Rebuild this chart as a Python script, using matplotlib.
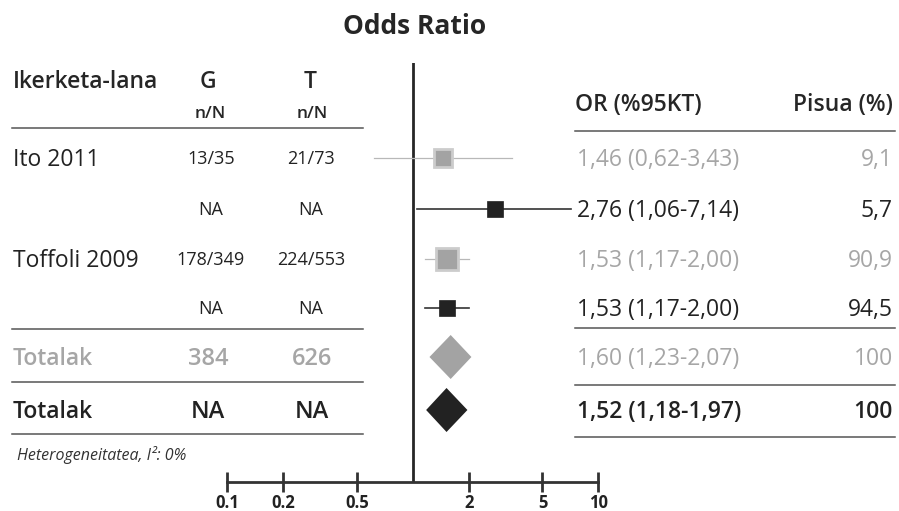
import matplotlib
matplotlib.use("Agg")
import matplotlib.pyplot as plt
from matplotlib.lines import Line2D

plt.rcParams['font.family'] = ['Open Sans', 'DejaVu Sans']

# data
studies = ["Ito 2011", "", "Toffoli 2009", "", "Totalak", "Totalak"]
g_counts = ["13/35", "NA", "178/349", "NA", "384", "NA"]
t_counts = ["21/73", "NA", "224/553", "NA", "626", "NA"]
odds = [1.46, 2.76, 1.53, 1.53, 1.60, 1.52]
ci_lo = [0.62, 1.06, 1.17, 1.17, 1.23, 1.18]
ci_hi = [3.43, 7.14, 2.00, 2.00, 2.07, 1.97]
weights = [9.1, 5.7, 90.9, 94.5, 100, 100]
is_total = [False, False, False, False, True, True]
xticks = [0.1, 0.2, 0.5, 2, 5, 10]
xtick_labels = ["0.1", "0.2", "0.5", "2", "5", "10"]

# layout (pixels from top-left of a 899x511 canvas)
W, H = 899, 511
row_y = [158, 209, 259, 308, 357, 410]
GRAY = "#a6a6a6"
DARK = "#222222"
row_col = [GRAY, DARK, GRAY, DARK, GRAY, DARK]
sq_size = [13, 12, 16, 11]       # marker sizes (pt)
sq_edge = ["#cccccc", DARK, "#cccccc", DARK]
LINE = "#555555"
FS = 16.5


def fx(x):
    return x / W


def fy(y):
    return 1 - y / H


def put(x, y, s, size, ha="left", **kw):
    # y is the visual centre of capitals, in pixels
    base = y + 0.357 * size * 100 / 72
    fig.text(fx(x), fy(base), s, fontsize=size, ha=ha, va="baseline", **kw)


def fmt(v):
    return f"{v:.2f}".replace(".", ",")


def fmt_w(v):
    return str(int(v)) if v == int(v) else f"{v:.1f}".replace(".", ",")


fig = plt.figure(figsize=(W / 100, H / 100), dpi=100)

# forest plot panel, log scale, 0.1..10
x0, x1, ytop, ybot = 227.3, 598.3, 63, 481.7
ax = fig.add_axes([fx(x0), fy(ybot), (x1 - x0) / W, (ybot - ytop) / H])
ax.set_xscale("log")
ax.set_xlim(0.1, 10)
ax.set_ylim(ybot, ytop)
ax.patch.set_alpha(0)
for side in ["top", "right", "left"]:
    ax.spines[side].set_visible(False)
ax.spines["bottom"].set_linewidth(2)
ax.spines["bottom"].set_color("#333333")
ax.set_yticks([])
ax.set_xticks(xticks)
ax.set_xticklabels(xtick_labels, fontsize=12, fontweight="bold", color="#222222")
ax.xaxis.set_minor_locator(matplotlib.ticker.NullLocator())
ax.tick_params(axis="x", direction="inout", length=15, width=2, color="#333333", pad=1.5)
ax.axvline(1, color="#262626", lw=2, zorder=1)

for i in range(len(odds)):
    y = row_y[i]
    c = row_col[i]
    if is_total[i]:
        h = 22
        ax.fill([ci_lo[i], odds[i], ci_hi[i], odds[i]], [y, y - h, y, y + h],
                color="#a3a3a3" if c == GRAY else DARK, lw=0, zorder=3)
    else:
        gray = c == GRAY
        ax.plot([ci_lo[i], ci_hi[i]], [y, y], color="#b8b8b8" if gray else "#333333",
                lw=0.9 if gray else 1.2, zorder=2)
        ax.plot(odds[i], y, marker="s", ms=sq_size[i],
                mfc="#a3a3a3" if gray else DARK, mec=sq_edge[i],
                mew=2 if gray else 0.5, zorder=3)

# title and headers
put(415, 25, "Odds Ratio", 19, ha="center", fontweight="bold", color="#262626")
put(13, 80, "Ikerketa-lana", FS, fontweight="semibold", color="#262626")
put(208, 80, "G", FS, ha="center", fontweight="semibold", color="#262626")
put(310, 80, "T", FS, ha="center", fontweight="semibold", color="#262626")
put(210, 112, "n/N", 12.5, ha="center", fontweight="semibold", color="#262626")
put(312, 112, "n/N", 12.5, ha="center", fontweight="semibold", color="#262626")
put(575, 103, "OR (%95KT)", FS, fontweight="semibold", color="#262626")
put(893, 103, "Pisua (%)", FS, ha="right", fontweight="semibold", color="#262626")

# table rows: left part is dark except the gray totals row
for i in range(len(odds)):
    y = row_y[i]
    c = row_col[i]
    tot = is_total[i]
    left_c = c if tot else DARK
    if studies[i]:
        put(13, y, studies[i], FS, color=left_c, fontweight="semibold" if tot else "normal")
    if tot:
        put(208, y, g_counts[i], 17, ha="center", color=left_c, fontweight="semibold")
        put(312, y, t_counts[i], 17, ha="center", color=left_c, fontweight="semibold")
    else:
        put(211, y, g_counts[i], 13, ha="center", color=left_c)
        put(311, y, t_counts[i], 13, ha="center", color=left_c)
    bold = "semibold" if (tot and c == DARK) else "normal"
    put(577, y, f"{fmt(odds[i])} ({fmt(ci_lo[i])}-{fmt(ci_hi[i])})", FS, color=c,
        fontweight=bold)
    put(893, y, fmt_w(weights[i]), FS, ha="right", color=c, fontweight=bold)

# separator lines
for y in [128, 329, 382, 434]:
    fig.add_artist(Line2D([fx(12), fx(363)], [fy(y), fy(y)], color=LINE, lw=1.1))
for y in [131, 328, 385, 437]:
    fig.add_artist(Line2D([fx(575), fx(895)], [fy(y), fy(y)], color=LINE, lw=1.1))

put(17, 454, "Heterogeneitatea, I\u00b2: 0%", 11.5, style="italic", color="#333333")

fig.savefig("out.png", dpi=100)
